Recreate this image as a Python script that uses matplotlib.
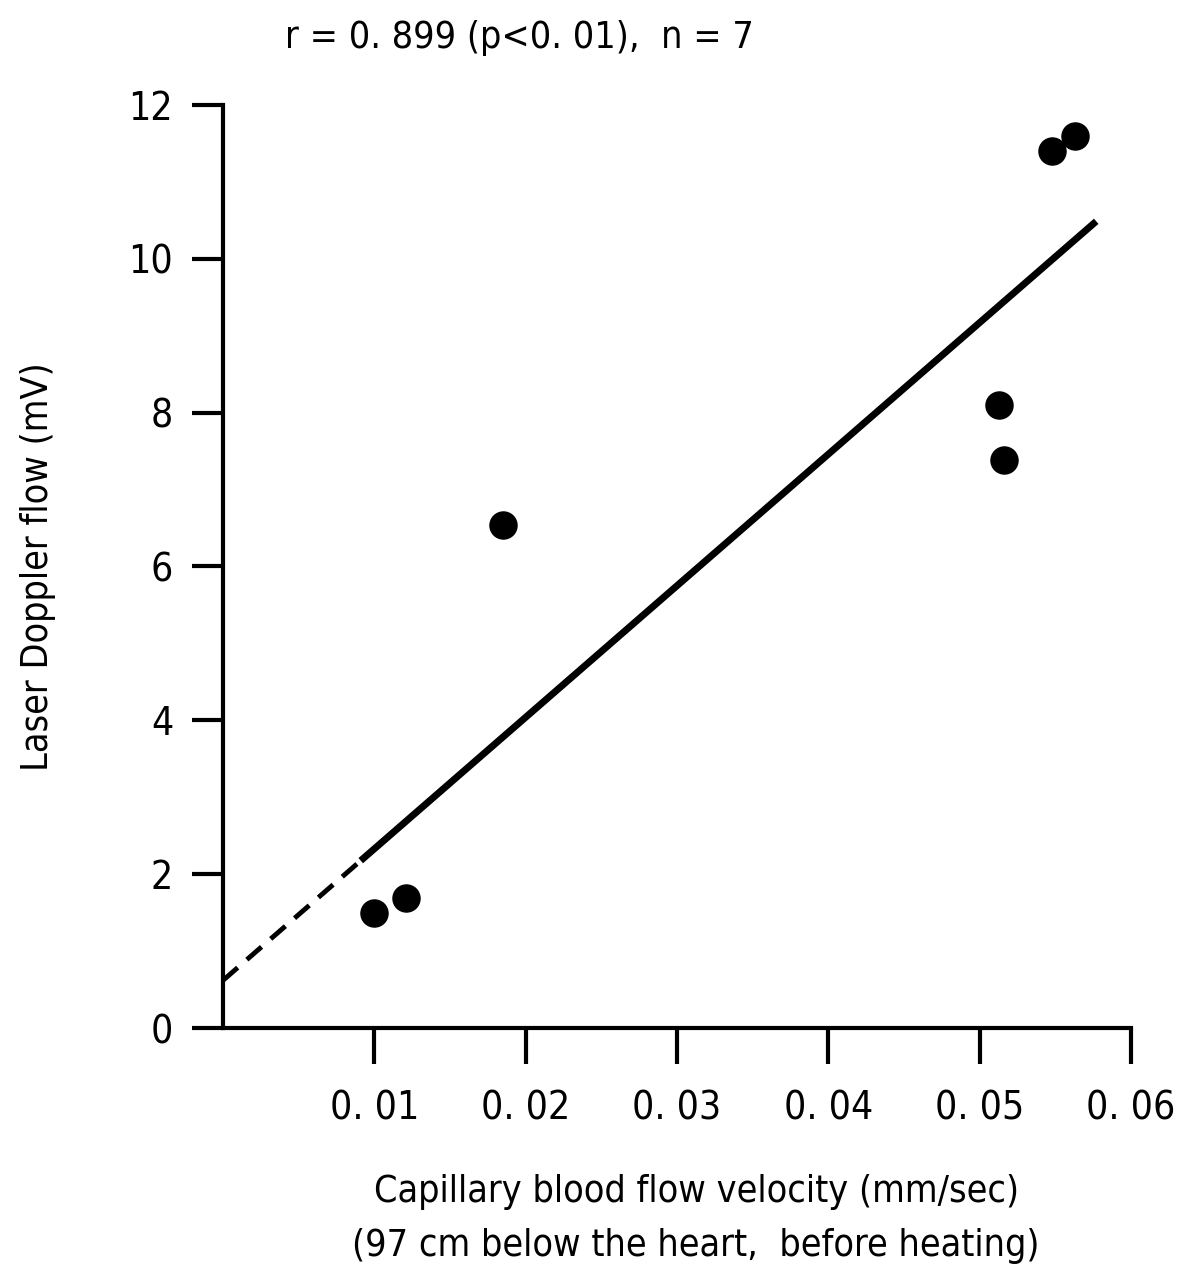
import matplotlib
matplotlib.use("Agg")
import matplotlib.pyplot as plt
from matplotlib import font_manager

# capillary velocity (mm/sec) vs laser doppler flow (mV)
velocity = [0.0100, 0.0121, 0.0185, 0.0513, 0.0516, 0.0548, 0.0563]
doppler = [1.50, 1.69, 6.54, 8.10, 7.39, 11.40, 11.60]

# regression line: dashed part (extrapolated) and solid part
fit_dash_x = [0.0, 0.0091]
fit_solid_x = [0.0091, 0.0577]
intercept = 0.62
slope = 171.0

xticks = [0.01, 0.02, 0.03, 0.04, 0.05, 0.06]
xticklabels = ["0. 01", "0. 02", "0. 03", "0. 04", "0. 05", "0. 06"]
yticks = [0, 2, 4, 6, 8, 10, 12]

# the original uses a condensed typeface, take the regular condensed DejaVu
narrow = None
for f in font_manager.fontManager.ttflist:
    if f.name == "DejaVu Sans" and f.stretch == "condensed" and \
            f.style == "normal" and f.weight in (400, "normal"):
        narrow = f
        break
if narrow is not None:
    fp = font_manager.FontProperties(fname=narrow.fname)
else:
    fp = font_manager.FontProperties(family="DejaVu Sans")

fig = plt.figure(figsize=(11.8, 12.79), dpi=100)
ax = fig.add_axes([0.189, 0.1962, 0.7695, 0.7218])

ax.plot(fit_dash_x, [intercept + slope * x for x in fit_dash_x],
        color="black", lw=3.5, ls=(0, (4, 2.5)), solid_capstyle="butt")
ax.plot(fit_solid_x, [intercept + slope * x for x in fit_solid_x],
        color="black", lw=5, solid_capstyle="butt")
ax.scatter(velocity, doppler, s=380, color="black", zorder=3)

ax.set_xlim(0, 0.06)
ax.set_ylim(0, 12)
ax.spines['top'].set_visible(False)
ax.spines['right'].set_visible(False)
ax.spines['left'].set_linewidth(3)
ax.spines['bottom'].set_linewidth(3)
ax.set_xticks(xticks)
ax.set_xticklabels(xticklabels)
ax.set_yticks(yticks)
ax.tick_params(axis='x', length=26, width=3, pad=18)
ax.tick_params(axis='y', length=22, width=3, pad=14)
for lab in ax.get_xticklabels() + ax.get_yticklabels():
    lab.set_fontproperties(fp)
    lab.set_fontsize(28)

ax.set_ylabel("Laser Doppler flow (mV)", fontproperties=fp, fontsize=27, labelpad=52)
fig.text(0.44, 0.97, "r = 0. 899 (p<0. 01),  n = 7", fontproperties=fp, fontsize=27,
         ha="center", va="center")
fig.text(0.59, 0.068, "Capillary blood flow velocity (mm/sec)", fontproperties=fp,
         fontsize=27, ha="center", va="center")
fig.text(0.59, 0.026, "(97 cm below the heart,  before heating)", fontproperties=fp,
         fontsize=27, ha="center", va="center")

fig.savefig("out.png", dpi=100)
